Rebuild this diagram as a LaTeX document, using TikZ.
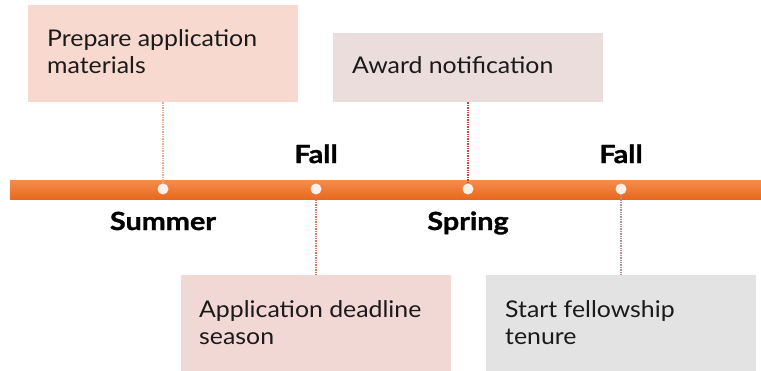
\documentclass[tikz,border=0pt]{standalone}
\usepackage{fontspec}
\setmainfont{Lato}[FakeStretch=1.08]
\newfontfamily\seasonfont{Lato}[FakeStretch=1.15, BoldFeatures={FakeBold=1.2}]
\definecolor{barTop}{HTML}{F48C4E}
\definecolor{barBot}{HTML}{E8691C}
\definecolor{dotFill}{HTML}{FDF0E8}
\definecolor{boxA}{HTML}{F8D9CF}
\definecolor{boxB}{HTML}{EBDDDC}
\definecolor{boxC}{HTML}{F2D8D5}
\definecolor{boxD}{HTML}{E3E3E3}
\definecolor{lnA}{HTML}{F4AC86}
\definecolor{lnB}{HTML}{C24A3C}
\definecolor{lnC}{HTML}{E07358}
\definecolor{lnD}{HTML}{B88A92}
\definecolor{txt}{HTML}{1A1A1A}
\tikzset{
  boxshape/.style={draw=none, rectangle, inner sep=0pt, anchor=north west},
  boxtext/.style={anchor=base west, inner sep=0pt, align=left, text=txt,
    font=\fontsize{23}{27}\selectfont},
  season/.style={inner sep=0pt, anchor=base, text=black,
    font=\seasonfont\fontsize{25}{28}\selectfont\bfseries},
  tdot/.style={circle, fill=dotFill, draw=none, minimum size=11pt, inner sep=0pt},
  conn/.style={densely dotted, line width=1.4pt}
}
\begin{document}
\begin{tikzpicture}[x=1pt,y=-1pt]
\useasboundingbox (0,0) rectangle (761,370);
% timeline bar
\shade[top color=barTop, bottom color=barBot] (10,180) rectangle (761,199);
% boxes
\node[boxshape, fill=boxA, minimum width=270pt, minimum height=97pt] (bA) at (28,5) {};
\node[boxshape, fill=boxB, minimum width=270pt, minimum height=69pt] (bB) at (333,33) {};
\node[boxshape, fill=boxC, minimum width=270pt, minimum height=100pt] (bC) at (181,275) {};
\node[boxshape, fill=boxD, minimum width=270pt, minimum height=100pt] (bD) at (486,275) {};
% dots
\node[tdot] (d1) at (163,189) {};
\node[tdot] (d2) at (316,189) {};
\node[tdot] (d3) at (468,189) {};
\node[tdot] (d4) at (621,189) {};
% connectors
\draw[conn, lnA] (bA.south -| d1) -- (d1.north);
\draw[conn, lnC] (d2.south) -- (bC.north -| d2);
\draw[conn, lnB] (bB.south -| d3) -- (d3.north);
\draw[conn, lnD] (d4.south) -- (bD.north -| d4);
% box texts (base anchor = baseline of last line)
\node[boxtext] (tA) at (47,73) {Prepare application\\materials};
\node[boxtext] (tB) at (352,73) {Award notification};
\node[boxtext] (tC) at (199,344) {Application deadline\\season};
\node[boxtext] (tD) at (505,344) {Start fellowship\\tenure};
% season labels
\node[season] (sSummer) at (163,230) {Summer};
\node[season] (sFall1) at (316,163) {Fall};
\node[season] (sSpring) at (468,230) {Spring};
\node[season] (sFall2) at (621,163) {Fall};
\end{tikzpicture}
\end{document}
